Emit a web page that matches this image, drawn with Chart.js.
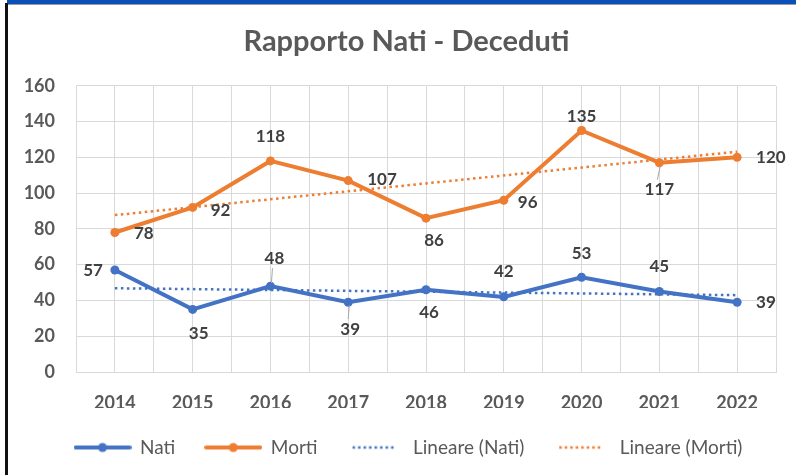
<!DOCTYPE html>
<html>
<head>
<meta charset="utf-8">
<script src="https://cdn.jsdelivr.net/npm/chart.js@4/dist/chart.umd.min.js"></script>
<style>
  html, body { margin: 0; padding: 0; background: #fff; }
  #wrap { position: relative; width: 796px; height: 475px; overflow: hidden; background: #fff; }
  #c { position: absolute; left: 0; top: 0; }
  .bar-top { position: absolute; left: 7px; top: 0; width: 789px; height: 4px; background: #0a50b8; z-index: 2; }
  .bar-top-shadow { position: absolute; left: 7px; top: 4px; width: 789px; height: 1px; background: #9a9a9a; z-index: 2; }
  .bar-left { position: absolute; left: 5px; top: 3px; width: 3px; height: 472px; background: #111; z-index: 2; }
</style>
</head>
<body>
<div id="wrap">
  <canvas id="c" width="796" height="475"></canvas>
  <div class="bar-top"></div>
  <div class="bar-top-shadow"></div>
  <div class="bar-left"></div>
</div>
<script>
// ---- data ----
const years = [2014, 2015, 2016, 2017, 2018, 2019, 2020, 2021, 2022];
const nati  = [57, 35, 48, 39, 46, 42, 53, 45, 39];
const morti = [78, 92, 118, 107, 86, 96, 135, 117, 120];
const yTicks = [0, 20, 40, 60, 80, 100, 120, 140, 160];
const titleText = 'Rapporto Nati - Deceduti';
const seriesNames = ['Nati', 'Morti', 'Lineare (Nati)', 'Lineare (Morti)'];

// ---- label placement (style only) : [align, dx, dy, leader]
const natiLabelPos = [
  ['right', -12, 0, false], ['center', 6, 24, false], ['center', 4, -28, true],
  ['center', 2, 27, true], ['center', 3, 23, false], ['center', 0, -25, false],
  ['center', 0, -24, false], ['center', 0, -25, false], ['left', 19, 0, false]
];
const mortiLabelPos = [
  ['left', 19, 1, false], ['left', 18, 3, false], ['center', 0, -24, false],
  ['left', 19, -1, false], ['center', 8, 22, false], ['left', 14, 2, false],
  ['center', 0, -14, false], ['center', 0, 27, true], ['left', 19, 0, false]
];

// linear trend (least squares, as the spreadsheet trendline)
function trend(vals) {
  const n = vals.length;
  const xs = vals.map((_, i) => i);
  const mx = xs.reduce((a, b) => a + b, 0) / n;
  const my = vals.reduce((a, b) => a + b, 0) / n;
  let sxy = 0, sxx = 0;
  xs.forEach((x, i) => { sxy += (x - mx) * (vals[i] - my); sxx += (x - mx) * (x - mx); });
  const b = sxy / sxx, a = my - b * mx;
  return xs.map(x => a + b * x);
}
const natiTrend = trend(nati);
const mortiTrend = trend(morti);

const BLUE = '#4472C4', ORANGE = '#ED7D31', TXT = '#595959', LBL = '#404040', GRID = '#d9d9d9';

function pts(vals) { return vals.map((v, i) => ({ x: years[i], y: v })); }

// legend icons
function icon(color, dotted) {
  const c = document.createElement('canvas');
  c.width = 58; c.height = 14;
  const g = c.getContext('2d');
  g.strokeStyle = color;
  if (dotted) {
    g.lineWidth = 2.5; g.setLineDash([2.5, 3]);
    g.beginPath(); g.moveTo(6, 7); g.lineTo(50, 7); g.stroke();
  } else {
    g.lineWidth = 4; g.lineCap = 'round';
    g.beginPath(); g.moveTo(2, 7); g.lineTo(56, 7); g.stroke();
    g.fillStyle = color; g.beginPath(); g.arc(29, 7, 4.5, 0, Math.PI * 2); g.fill();
  }
  return c;
}
const icons = [icon(BLUE, false), icon(ORANGE, false), icon(BLUE, true), icon(ORANGE, true)];

// x grid positions: category centres and boundaries
const xGrid = [];
years.forEach((y, i) => { if (i === 0) xGrid.push(y - 0.5); xGrid.push(y); xGrid.push(y + 0.5); });

const labelPlugin = {
  id: 'dataLabels',
  afterLayout(chart) {
    // nudge the legend and title to the right like the original
    if (chart.legend) { chart.legend.left += 12; chart.legend.right += 12; }
    if (chart.titleBlock) { chart.titleBlock.left += 10; chart.titleBlock.right += 10; }
  },
  afterDatasetsDraw(chart) {
    const ctx = chart.ctx;
    const sets = [[0, nati, natiLabelPos], [1, morti, mortiLabelPos]];
    ctx.save();
    ctx.font = 'bold 17px Lato';
    ctx.fillStyle = LBL;
    ctx.textBaseline = 'middle';
    sets.forEach(([di, vals, pos]) => {
      const meta = chart.getDatasetMeta(di);
      meta.data.forEach((el, i) => {
        const [align, dx, dy, leader] = pos[i];
        const tx = el.x + dx, ty = el.y + dy;
        if (leader) {
          ctx.save();
          ctx.strokeStyle = '#a6a6a6'; ctx.lineWidth = 1;
          ctx.beginPath();
          const s = dy < 0 ? -1 : 1;
          ctx.moveTo(el.x + 1, el.y + s * 3);
          ctx.lineTo(tx - 2, ty - s * 10);
          ctx.stroke();
          ctx.restore();
        }
        ctx.textAlign = align;
        ctx.fillText(String(vals[i]), tx, ty);
      });
    });
    ctx.restore();
  }
};

Chart.defaults.font.family = 'Lato';

new Chart(document.getElementById('c'), {
  type: 'line',
  data: {
    datasets: [
      { label: seriesNames[0], data: pts(nati), borderColor: BLUE, backgroundColor: BLUE,
        borderWidth: 4, pointRadius: 4.5, pointHoverRadius: 4.5, pointBackgroundColor: BLUE, pointBorderWidth: 0, tension: 0, order: 1 },
      { label: seriesNames[1], data: pts(morti), borderColor: ORANGE, backgroundColor: ORANGE,
        borderWidth: 4, pointRadius: 4.5, pointHoverRadius: 4.5, pointBackgroundColor: ORANGE, pointBorderWidth: 0, tension: 0, order: 2 },
      { label: seriesNames[2], data: pts(natiTrend), borderColor: BLUE, borderWidth: 2.5,
        borderDash: [2.5, 3.5], pointRadius: 0, tension: 0, order: 3 },
      { label: seriesNames[3], data: pts(mortiTrend), borderColor: ORANGE, borderWidth: 2.5,
        borderDash: [2.5, 3.5], pointRadius: 0, tension: 0, order: 4 }
    ]
  },
  options: {
    responsive: false,
    animation: false,
    layout: { padding: { left: 16, right: 19, top: 0, bottom: 8 } },
    plugins: {
      tooltip: { enabled: false },
      title: {
        display: true, text: titleText, color: TXT,
        font: { size: 29, weight: 'bold', family: 'Lato' },
        padding: { top: 24, bottom: 27 }
      },
      legend: {
        position: 'bottom',
        labels: {
          usePointStyle: true, pointStyleWidth: 56, padding: 30,
          color: TXT, font: { size: 19, family: 'Lato' },
          generateLabels: (chart) => chart.data.datasets.map((d, i) => ({
            text: d.label, pointStyle: icons[i], fillStyle: d.borderColor,
            strokeStyle: d.borderColor, lineWidth: 0, hidden: false, datasetIndex: i, fontColor: TXT
          }))
        }
      }
    },
    scales: {
      x: {
        type: 'linear',
        min: years[0] - 0.5, max: years[years.length - 1] + 0.5,
        afterBuildTicks: s => { s.ticks = xGrid.map(v => ({ value: v })); },
        afterFit: s => { s.height = 36; },
        grid: { color: GRID, lineWidth: 1, drawTicks: false },
        border: { display: true, color: GRID },
        ticks: {
          autoSkip: false, maxRotation: 0, padding: 20, color: TXT,
          font: { size: 18, weight: 'bold', family: 'Lato' },
          callback: v => (Number.isInteger(v) ? String(v) : '')
        }
      },
      y: {
        min: yTicks[0], max: yTicks[yTicks.length - 1],
        afterBuildTicks: s => { s.ticks = yTicks.map(v => ({ value: v })); },
        afterFit: s => { s.width = 60; },
        grid: { color: GRID, lineWidth: 1, drawTicks: false },
        border: { display: true, color: GRID },
        ticks: {
          padding: 21, color: TXT,
          font: { size: 18, weight: 'bold', family: 'Lato' }
        }
      }
    }
  },
  plugins: [labelPlugin]
});
</script>
</body>
</html>
